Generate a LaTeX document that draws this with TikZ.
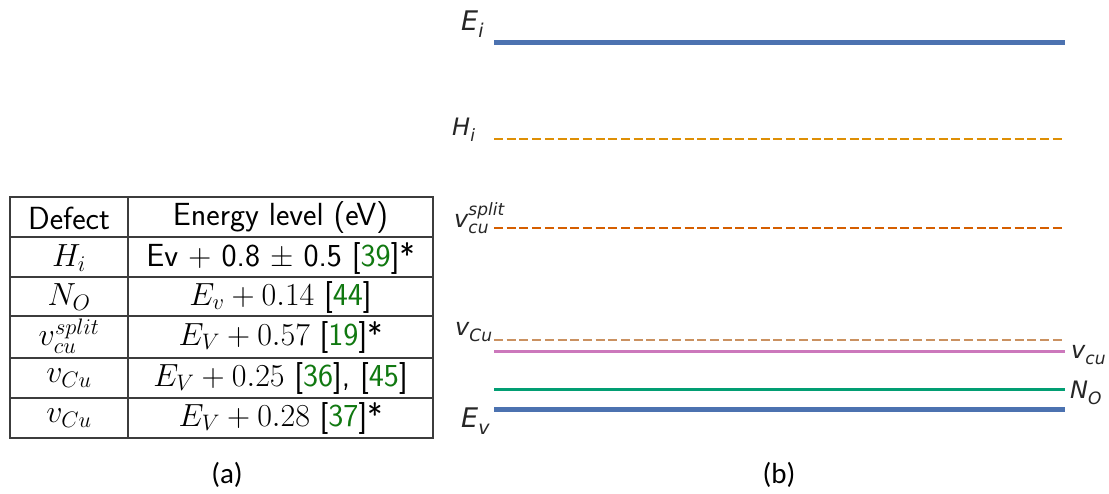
\documentclass[tikz,border=0pt]{standalone}
\usepackage{fix-cm}
\usepackage{fontspec}
\newfontfamily\djv{DejaVu Sans}
\newfontfamily\capfont{Carlito}
\definecolor{lvblue}{HTML}{4C72B0}
\definecolor{lvgold}{HTML}{DE8F05}
\definecolor{lvorange}{HTML}{D55E00}
\definecolor{lvtan}{HTML}{CA9161}
\definecolor{lvpink}{HTML}{CC78BC}
\definecolor{lvgreen}{HTML}{029E73}
\definecolor{citegreen}{RGB}{16,120,16}
\definecolor{rulegray}{RGB}{60,60,60}
\newcommand{\cit}[1]{\textcolor{citegreen}{#1}}
% level labels: italic DejaVu Sans with hand-placed scripts
\newcommand{\lvsub}[1]{\raisebox{-0.28em}{\fontsize{17}{20}\selectfont #1}}
\newcommand{\lvsubbig}[1]{\raisebox{-0.28em}{\fontsize{19}{22}\selectfont #1}}
\begin{document}
\begin{tikzpicture}[x=1pt,y=-1pt,
  tabrule/.style={draw=rulegray,line width=1.2pt},
  cell/.style={inner sep=0pt,font=\fontsize{32}{36}\selectfont},
  lvlabel/.style={inner sep=0pt,font=\djv\itshape\fontsize{24}{28}\selectfont,text=black!85},
  lvbig/.style={inner sep=0pt,font=\djv\itshape\fontsize{27}{30}\selectfont,text=black!85},
  band/.style={line width=5pt,draw=lvblue},
  dashlevel/.style={line width=2.8pt,dash pattern=on 9pt off 3.7pt},
  caption/.style={inner sep=0pt,font=\capfont\fontsize{29}{33}\selectfont}]
\useasboundingbox (0,0) rectangle (1109,493);

% ---------- (a) table of defect levels ----------
\draw[tabrule] (10,197) rectangle (433,438);
\draw[tabrule] (128,197) -- (128,438);
\foreach \yy in {237,277,316,358,398}
  \draw[tabrule] (10,\yy) -- (433,\yy);

\node[cell] (h1) at (69,218) {\sffamily Defect};
\node[cell] (h2) at (280.5,218) {\sffamily Energy level (eV)};
\node[cell] (d1) at (69,258) {$H_i$};
\node[cell] (e1) at (280.5,258) {\sffamily Ev + 0.8 \textpm\ 0.5 [\cit{39}]*};
\node[cell] (d2) at (69,297) {$N_O$};
\node[cell] (e2) at (280.5,297) {$E_v+0.14$ {\sffamily[\cit{44}]}};
\node[cell] (d3) at (69,336) {$v_{cu}^{split}$};
\node[cell] (e3) at (280.5,337) {$E_V+0.57$ {\sffamily[\cit{19}]*}};
\node[cell] (d4) at (69,378) {$v_{Cu}$};
\node[cell] (e4) at (280.5,378) {$E_V+0.25$ {\sffamily[\cit{36}], [\cit{45}]}};
\node[cell] (d5) at (69,418) {$v_{Cu}$};
\node[cell] (e5) at (280.5,418) {$E_V+0.28$ {\sffamily[\cit{37}]*}};

\node[caption] (capa) at (227,475) {(a)};

% ---------- (b) energy level diagram ----------
\coordinate (eiL) at (494,42.5);   \coordinate (eiR) at (1065,42.5);
\coordinate (hiL) at (494,139);    \coordinate (hiR) at (1063,139);
\coordinate (spL) at (494,228);    \coordinate (spR) at (1063,228);
\coordinate (vdL) at (494,340);    \coordinate (vdR) at (1063,340);
\coordinate (vsL) at (494,351.5);  \coordinate (vsR) at (1065,351.5);
\coordinate (noL) at (494,389.5);  \coordinate (noR) at (1065,389.5);
\coordinate (evL) at (494,409);    \coordinate (evR) at (1065,409);

\draw[band] (eiL) -- (eiR);
\draw[dashlevel,draw=lvgold] (hiL) -- (hiR);
\draw[dashlevel,draw=lvorange] (spL) -- (spR);
\draw[dashlevel,draw=lvtan] (vdL) -- (vdR);
\draw[line width=2.5pt,draw=lvpink] (vsL) -- (vsR);
\draw[line width=3pt,draw=lvgreen] (noL) -- (noR);
\draw[band] (evL) -- (evR);

\node[lvbig,anchor=base west] (lEi) at (461,30) {E\lvsubbig{i}};
\node[lvlabel,anchor=base west] (lHi) at (452,135) {H\lvsub{i}};
\node[lvlabel,anchor=base west] (lSp) at (454,227)
  {v\makebox[0pt][l]{\raisebox{0.5em}{\fontsize{17}{20}\selectfont split}}\lvsub{cu}};
\node[lvlabel,anchor=base west] (lVc) at (455,335) {v\lvsub{Cu}};
\node[lvbig,anchor=base west] (lEv) at (461,427) {E\lvsubbig{v}};
\node[lvlabel,anchor=base west] (rVc) at (1071,358) {v\lvsub{cu}};
\node[lvlabel,anchor=base west] (rNo) at (1070,398) {N\lvsub{O}};

\node[caption] (capb) at (779,475) {(b)};
\end{tikzpicture}
\end{document}
